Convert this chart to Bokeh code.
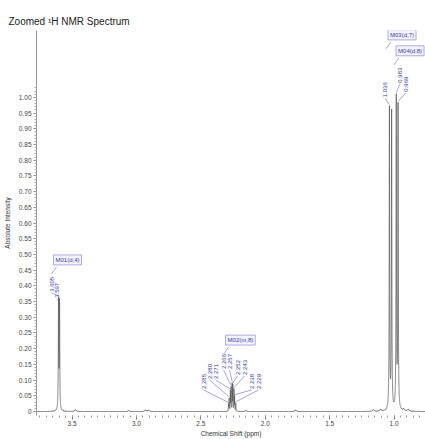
import numpy as np
from bokeh.plotting import figure
from bokeh.models import (ColumnDataSource, FixedTicker, CustomJSTickFormatter,
                          Range1d, Label)
from bokeh.core.properties import value
from bokeh.embed import file_html
from bokeh.resources import INLINE

# ---------------- peak lists (ppm, intensity) ----------------
m01_ppm = [3.605, 3.597]
m01_int = [0.345, 0.340]

m02_ppm = [2.285, 2.280, 2.271, 2.266, 2.257, 2.252, 2.243, 2.238, 2.229]
m02_int = [0.022, 0.040, 0.062, 0.074, 0.085, 0.080, 0.068, 0.045, 0.026]

m03_ppm = [1.036, 1.019]
m03_int = [0.958, 0.945]

m04_ppm = [0.983, 0.969]
m04_int = [0.988, 0.962]

small_ppm = [3.473, 3.060, 2.930, 2.905, 2.150, 1.765, 1.160, 1.105, 0.925, 0.890]
small_int = [0.006, 0.003, 0.005, 0.005, 0.003, 0.005, 0.006, 0.006, 0.006, 0.006]

multiplet_names = ["M01(d,4)", "M02(m,8)", "M03(d,7)", "M04(d,8)"]
# peaks carrying a shift label in each multiplet
labelled = [m01_ppm, m02_ppm, [1.036], m04_ppm]

x_ticks = [3.5, 3.0, 2.5, 2.0, 1.5, 1.0]
y_ticks = [round(0.05 * i, 2) for i in range(21)]

# ---------------- line shapes ----------------
HW_MAIN, HW_MULT, HW_SMALL = 0.002, 0.0012, 0.006
peaks = ([(p, h, HW_MAIN) for p, h in zip(m01_ppm, m01_int)] +
         [(p, h, HW_MULT) for p, h in zip(m02_ppm, m02_int)] +
         [(p, h, HW_MAIN) for p, h in zip(m03_ppm, m03_int)] +
         [(p, h, HW_MAIN) for p, h in zip(m04_ppm, m04_int)] +
         [(p, h, HW_SMALL) for p, h in zip(small_ppm, small_int)])

X0, X1 = 3.776, 0.756
Y0, Y1 = -0.0127, 1.2127
grid = np.union1d(np.arange(X1, X0, 0.0002), [p for p, _, _ in peaks])
spec = np.zeros_like(grid)
for p, h, w in peaks:
    spec += h * w * w / ((grid - p) ** 2 + w * w)

# ---------------- figure ----------------
W, H = 425, 439
BL, BR, BT, BB = 36, 0, 30, 23
p = figure(width=W, height=H, x_range=Range1d(X0, X1), y_range=Range1d(Y0, Y1),
           output_backend="svg", toolbar_location=None,
           min_border_left=BL, min_border_right=BR,
           min_border_top=BT, min_border_bottom=BB)
p.outline_line_color = None
p.xgrid.visible = False
p.ygrid.visible = False

FONT = "Liberation Sans"
p.title.text = "Zoomed \u00b9H NMR Spectrum"
p.title.text_font = FONT
p.title.text_font_size = "10px"
p.title.text_font_style = "normal"
p.title.text_color = "#222222"
p.title.align = "left"
p.title.offset = -28
p.title.standoff = 8

# pixel <-> data scale of the frame
PX_PER_PPM = (W - BL - BR) / (X0 - X1)
PX_PER_INT = (H - BT - BB) / (Y1 - Y0)


def dppm(dx):
    return -dx / PX_PER_PPM


def dint(dy):
    return -dy / PX_PER_INT


# axes
xa = p.xaxis[0]
xa.ticker = FixedTicker(ticks=x_ticks,
                        minor_ticks=[round(0.8 + 0.05 * i, 2) for i in range(60)])
xa.formatter = CustomJSTickFormatter(code="return tick.toFixed(1);")
xa.axis_line_color = None
xa.major_tick_line_color = "#777777"
xa.minor_tick_line_color = "#999999"
xa.major_tick_in = 0
xa.major_tick_out = 4
xa.minor_tick_in = 0
xa.minor_tick_out = 2
xa.major_label_standoff = 1
xa.major_label_text_font = FONT
xa.major_label_text_font_size = "6.5px"
xa.major_label_text_color = "#444444"
xa.axis_label = "Chemical Shift (ppm)"
xa.axis_label_text_font = FONT
xa.axis_label_text_font_size = "6.5px"
xa.axis_label_text_font_style = "normal"
xa.axis_label_text_color = "#333333"
xa.axis_label_standoff = 1

ya = p.yaxis[0]
ya.ticker = FixedTicker(ticks=y_ticks,
                        minor_ticks=[round(0.01 * i, 2) for i in range(104)])
ya.formatter = CustomJSTickFormatter(code="return tick == 0 ? '0' : tick.toFixed(2);")
ya.axis_line_color = "#999999"
ya.major_tick_line_color = "#777777"
ya.minor_tick_line_color = "#aaaaaa"
ya.major_tick_in = 0
ya.major_tick_out = 3
ya.minor_tick_in = 0
ya.minor_tick_out = 2
ya.major_label_standoff = 2
ya.major_label_text_font = FONT
ya.major_label_text_font_size = "6.5px"
ya.major_label_text_color = "#444444"
ya.axis_label = "Absolute Intensity"
ya.axis_label_text_font = FONT
ya.axis_label_text_font_size = "6.5px"
ya.axis_label_text_font_style = "normal"
ya.axis_label_text_color = "#333333"
ya.axis_label_standoff = 5

# spectrum trace
p.line(grid, spec, line_color="#555555", line_width=0.7)

# ---------------- annotations ----------------
BLUE = "#3b3b9c"
LEAD = "#6a6ab8"


def height_at(ppm):
    return float(np.interp(ppm, grid, spec))


# label layout per multiplet: anchor peak, shift-label offsets (px), box offset (px)
layout = [
    dict(anchor=m01_ppm[0],
         offs=[(-7, -4), (-2, 2)],
         box=(-5, -30)),
    dict(anchor=m02_ppm[4],
         offs=[(-28.6, 7.4), (-22.6, -2.6), (-16.6, -2.6), (-8.6, -12.6),
               (-2.6, -12.6), (5.4, -6.6), (12.4, -6.6), (19.4, 7.4), (26.4, 7.4)],
         box=(-6.6, -35.6)),
    dict(anchor=m03_ppm[0],
         offs=[(-4.4, -7.5)],
         box=(-1.4, -64)),
    dict(anchor=m04_ppm[0],
         offs=[(3.8, -10), (9.8, -1)],
         box=(-0.2, -36)),
]

lx, ly, lt = [], [], []
sx0, sy0, sx1, sy1 = [], [], [], []
for name, shifts, lay in zip(multiplet_names, labelled, layout):
    ax_ppm = lay["anchor"]
    ax_int = height_at(ax_ppm)
    for ppm, (dx, dy) in zip(shifts, lay["offs"]):
        x_lab = ax_ppm + dppm(dx)
        y_lab = ax_int + dint(dy)
        lx.append(x_lab)
        ly.append(y_lab + dint(-1))
        lt.append(f"{ppm:.3f}")
        top = height_at(ppm)
        sx0.append(x_lab)
        sy0.append(y_lab)
        sx1.append(ppm)
        sy1.append(min(top + dint(-1), y_lab + dint(3)))
    bx, by = lay["box"]
    x_box = ax_ppm + dppm(bx)
    y_box = ax_int + dint(by)
    p.add_layout(Label(x=x_box, y=y_box + dint(-2), text=name,
                       text_font=FONT, text_font_size="6px", text_color=BLUE,
                       text_align="left", text_baseline="bottom",
                       background_fill_color="#f3f3ff",
                       border_line_color="#8c8cd0", border_line_width=0.7,
                       padding=2))
    sx0.append(x_box + dppm(3))
    sy0.append(y_box)
    sx1.append(x_box + dppm(-2))
    sy1.append(y_box + dint(7))

p.segment(x0=sx0, y0=sy0, x1=sx1, y1=sy1, line_color=LEAD, line_width=0.6)

lab_src = ColumnDataSource(dict(x=lx, y=ly, text=lt))
p.text(x="x", y="y", text="text", source=lab_src, angle=np.pi / 2,
       text_align="left", text_baseline="middle",
       text_font=value(FONT), text_font_size="6px", text_color=BLUE)

open("out.html", "w").write(file_html(p, INLINE))
